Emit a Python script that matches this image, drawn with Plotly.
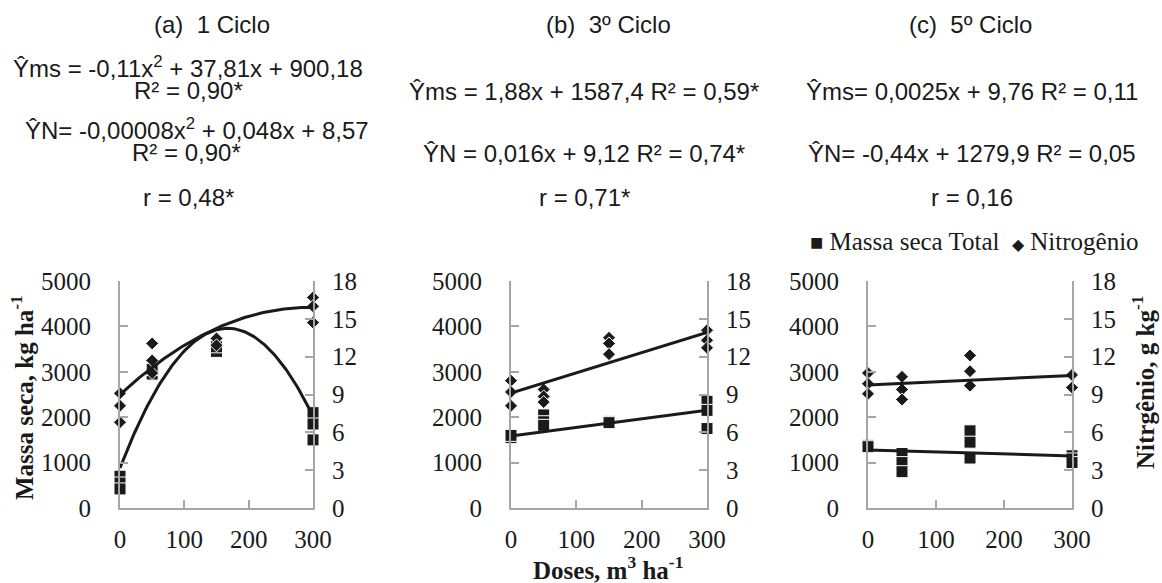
import numpy as np
import plotly.graph_objects as go

# ---------------- data ----------------
doses_ticks = [0, 100, 200, 300]
left_ticks = [0, 1000, 2000, 3000, 4000, 5000]
right_ticks = [0, 3, 6, 9, 12, 15, 18]

# (a) 1 Ciclo
a_ms_x = [0, 0, 0, 50, 50, 150, 150, 300, 300, 300]
a_ms_y = [700, 550, 420, 2950, 3050, 3450, 3550, 2100, 1850, 1500]
a_n_x = [0, 0, 0, 50, 50, 50, 150, 150, 300, 300, 300]
a_n_y = [9.1, 8.1, 6.8, 13.05, 11.7, 10.7, 13.45, 12.9, 16.7, 16.0, 14.7]
a_ms_fit = [-0.11, 36.8, 880.0]        # quadratic a, b, c
a_n_fit = [-0.00008, 0.047, 9.0]

# (b) 3º Ciclo
b_ms_x = [0, 0, 50, 50, 50, 150, 150, 300, 300, 300]
b_ms_y = [1550, 1600, 2050, 1900, 1820, 1900, 1880, 2350, 2150, 1750]
b_n_x = [0, 0, 0, 50, 50, 50, 150, 150, 150, 300, 300, 300]
b_n_y = [10.1, 9.2, 8.1, 9.4, 8.85, 8.4, 13.5, 13.05, 12.2, 14.1, 13.3, 12.7]
b_ms_fit = [1.88, 1587.4]              # slope, intercept
b_n_fit = [0.016, 9.12]

# (c) 5º Ciclo
c_ms_x = [0, 0, 50, 50, 50, 150, 150, 150, 300, 300, 300]
c_ms_y = [1380, 1350, 1200, 1000, 800, 1700, 1450, 1100, 1150, 1080, 1000]
c_n_x = [0, 0, 0, 50, 50, 50, 150, 150, 150, 300, 300]
c_n_y = [10.7, 9.85, 9.05, 10.4, 9.4, 8.6, 12.1, 10.85, 9.7, 10.55, 9.55]
c_ms_fit = [-0.44, 1279.9]
c_n_fit = [0.0025, 9.76]

titles = ["(a)  1 Ciclo", "(b)  3º Ciclo", "(c)  5º Ciclo"]
eq_a = ["Ŷms = -0,11x<sup>2</sup> + 37,81x + 900,18", "R² = 0,90*",
        "ŶN= -0,00008x<sup>2</sup> + 0,048x + 8,57", "R² = 0,90*", "r = 0,48*"]
eq_b = ["Ŷms = 1,88x + 1587,4 R² = 0,59*", "ŶN = 0,016x + 9,12 R² = 0,74*", "r = 0,71*"]
eq_c = ["Ŷms= 0,0025x + 9,76 R² = 0,11", "ŶN= -0,44x + 1279,9 R² = 0,05", "r = 0,16"]
legend_names = ["Massa seca Total", "Nitrogênio"]

# ---------------- layout geometry ----------------
W, H = 1162, 583
def px(x):
    return x / W
def py(y):
    return 1 - y / H

x_domains = [(120, 313), (511, 707), (868, 1072)]
y_dom = [py(508), py(281)]

INK = "#1a1a1a"
AXC = "#a6a6a6"
SERIF = "Liberation Serif"
SANS = "Liberation Sans"

fig = go.Figure()

panels = [
    (a_ms_x, a_ms_y, a_n_x, a_n_y, a_ms_fit, a_n_fit),
    (b_ms_x, b_ms_y, b_n_x, b_n_y, b_ms_fit, b_n_fit),
    (c_ms_x, c_ms_y, c_n_x, c_n_y, c_ms_fit, c_n_fit),
]

xs = np.linspace(0, 300, 121)
for i, (mx, my, nx, ny, mfit, nfit) in enumerate(panels):
    xa = "x" if i == 0 else f"x{i+1}"
    yl = "y" if i == 0 else f"y{2*i+1}"
    yr = f"y{2*i+2}"
    fig.add_trace(go.Scatter(
        x=mx, y=my, xaxis=xa, yaxis=yl, mode="markers", name=legend_names[0],
        showlegend=False, cliponaxis=False,
        marker=dict(symbol="square", size=12, color=INK, line=dict(color="white", width=1))))
    fig.add_trace(go.Scatter(
        x=nx, y=ny, xaxis=xa, yaxis=yr, mode="markers", name=legend_names[1],
        showlegend=False, cliponaxis=False,
        marker=dict(symbol="diamond", size=10, color=INK, line=dict(color="white", width=1))))
    ym = np.polyval(mfit, xs)
    yn = np.polyval(nfit, xs)
    fig.add_trace(go.Scatter(x=xs, y=ym, xaxis=xa, yaxis=yl, mode="lines", showlegend=False,
                             cliponaxis=False, line=dict(color=INK, width=3), hoverinfo="skip"))
    fig.add_trace(go.Scatter(x=xs, y=yn, xaxis=xa, yaxis=yr, mode="lines", showlegend=False,
                             cliponaxis=False, line=dict(color=INK, width=3), hoverinfo="skip"))

tickfont = dict(family=SERIF, size=25, color=INK)
lay = {}
for i, (x0, x1) in enumerate(x_domains):
    xk = "xaxis" if i == 0 else f"xaxis{i+1}"
    ylk = "yaxis" if i == 0 else f"yaxis{2*i+1}"
    yrk = f"yaxis{2*i+2}"
    yl = "y" if i == 0 else f"y{2*i+1}"
    xa = "x" if i == 0 else f"x{i+1}"
    common = dict(ticks="inside", ticklen=8, tickwidth=2, tickcolor=AXC,
                  showline=True, linecolor=AXC, linewidth=2, showgrid=False, zeroline=False,
                  tickfont=tickfont, automargin=False, fixedrange=True)
    lay[xk] = dict(domain=[px(x0), px(x1)], range=[0, 300], anchor=yl,
                   tickvals=doses_ticks, ticklabelstandoff=8, **common)
    lay[ylk] = dict(domain=y_dom, range=[0, 5000], anchor=xa, side="left",
                    tickvals=left_ticks, ticklabelstandoff=22, **common)
    lay[yrk] = dict(domain=y_dom, range=[0, 18], anchor=xa, overlaying=yl, side="right",
                    tickvals=right_ticks, ticklabelstandoff=12, **common)

annotations = []
def ann(text, x, y, size=24, family=SANS, bold=False, angle=0, xanchor="center"):
    if bold:
        text = f"<b>{text}</b>"
    annotations.append(dict(text=text, x=px(x), y=py(y), xref="paper", yref="paper",
                            showarrow=False, xanchor=xanchor, yanchor="middle",
                            textangle=angle, font=dict(family=family, size=size, color=INK)))

ann(titles[0], 212, 24)
ann(titles[1], 608, 24)
ann(titles[2], 970, 24)
for t, y, x in zip(eq_a, [67, 90, 129, 152, 198], [188, 188, 197, 186, 188]):
    ann(t, x, y)
for t, y in zip(eq_b, [92, 153, 198]):
    ann(t, 584, y)
for t, y in zip(eq_c, [92, 153, 198]):
    ann(t, 972, y)

ann("Massa seca, kg ha<sup>-1</sup>", 22, 398, size=25, family=SERIF, bold=True, angle=-90)
ann("Nitrgênio, g kg<sup>-1</sup>", 1143, 382, size=25, family=SERIF, bold=True, angle=-90)
ann("Doses, m<sup>3</sup> ha<sup>-1</sup>", 608, 568, size=25, family=SERIF, bold=True)

# legend drawn as a text line with symbol glyphs
legend_text = (f"<span style='font-size:22px'>■</span> {legend_names[0]}  "
               f"<span style='font-size:16px'>◆</span> {legend_names[1]}")
ann(legend_text, 975, 241, size=25, family=SERIF)

fig.update_layout(
    width=W, height=H, margin=dict(l=0, r=0, t=0, b=0, autoexpand=False),
    paper_bgcolor="white", plot_bgcolor="white",
    annotations=annotations, showlegend=False,
    **lay,
)

fig.write_html("out.html", config={"displayModeBar": False},
               post_script="document.body.style.margin='0';")
